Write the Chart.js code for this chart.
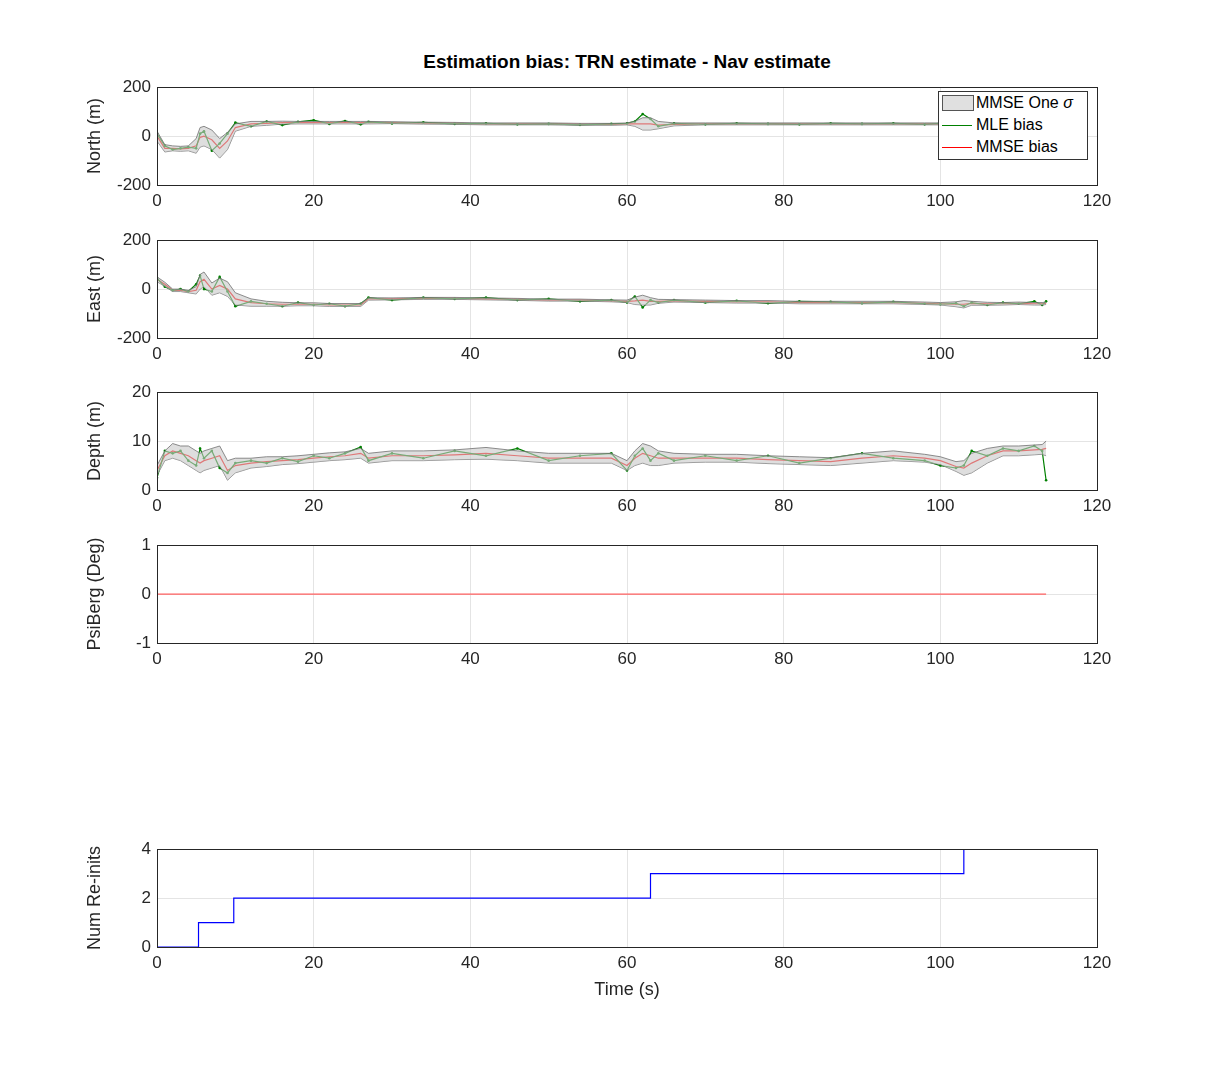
<!DOCTYPE html>
<html><head><meta charset="utf-8">
<script src="https://cdn.jsdelivr.net/npm/chart.js@4"></script>
<style>
body{margin:0;background:#fff;width:1213px;height:1070px;position:relative;font-family:"Liberation Sans",Arial,sans-serif}
canvas{position:absolute}
#title{position:absolute;left:157px;width:940px;top:51px;text-align:center;font-weight:bold;font-size:19px;color:#000}
#legend{position:absolute;left:938px;top:91px;width:148px;height:67px;border:1px solid #333;background:#fff;font-size:16px;color:#000}
#legend div{height:22px;line-height:22px;position:relative;padding-left:37px}
#legend span{position:absolute;left:3px;top:6px;width:30px;height:12px}
</style></head><body>
<div id="title">Estimation bias: TRN estimate - Nav estimate</div>
<canvas id="c1"></canvas><canvas id="c2"></canvas><canvas id="c3"></canvas><canvas id="c4"></canvas><canvas id="c5"></canvas>
<div id="legend">
<div><span style="background:#e0e0e0;border:1px solid #555;height:14px;top:3px"></span>MMSE One <i>σ</i></div>
<div><span style="background:#008000;height:1px;top:11px"></span>MLE bias</div>
<div><span style="background:#ff0000;height:1px;top:11px"></span>MMSE bias</div>
</div>
<script>
const time = [0,1,2,3,4,5,5.5,6,7,8,9,10,12,14,16,18,20,22,24,26,27,30,34,38,42,46,50,54,58,60,61,62,63,64,66,70,74,78,82,86,90,94,98,100,102,103,104,106,108,110,112,113,113.5];

const northMmse = [0,-50,-50,-52,-50,-40,-5,0,-15,-50, -20,35,50,52,55,55,55,55,55,55, 55,55,53,52,50,50,50,48,48,50, 50,50,50,45,48,50,50,50,50,50, 50,50,50,50,50,50,50,50,50,50, 50,50,50];
const northMle = [10,-40,-55,-50,-45,-50,10,20,-60,-30, 10,55,40,60,45,58,65,50,62,48, 58,52,56,50,52,48,50,46,50,52, 60,90,70,40,52,48,52,50,48,52, 50,52,48,52,50,50,50,48,52,50, 50,52,50];
const northSigma = [20,15,10,10,10,30,40,40,40,40, 35,15,10,8,6,5,5,5,5,5, 5,4,4,4,4,4,4,4,4,4, 10,25,25,15,6,4,4,4,4,4, 4,4,4,4,4,4,4,4,4,4, 4,4,4];

const eastMmse = [40,20,-5,-5,-10,-5,30,40,0,15, 0,-40,-55,-60,-62,-62,-62,-65,-65,-65, -40,-40,-38,-38,-40,-42,-45,-45,-48,-50, -48,-45,-50,-50,-48,-50,-52,-52,-55,-55, -55,-55,-58,-60,-62,-62,-58,-60,-60,-58, -60,-60,-58];
const eastMle = [45,10,-5,0,-10,20,55,0,-10,50, -10,-70,-50,-60,-70,-55,-65,-60,-70,-60, -35,-45,-35,-40,-35,-45,-40,-50,-45,-55, -30,-75,-45,-55,-45,-55,-48,-58,-50,-52, -58,-52,-60,-62,-58,-70,-55,-65,-55,-60, -50,-65,-50];
const eastSigma = [10,8,5,5,5,15,30,30,25,30, 30,25,15,10,8,6,6,6,6,6, 5,4,4,4,4,4,4,4,4,5, 15,20,15,8,5,5,5,5,5,5, 5,5,5,5,10,15,8,6,5,5, 5,5,5];

const depthMmse = [4,7,8,7.5,7,6,5.5,6,6.5,7, 4,5,5.5,5.8,6,6.2,6.5,6.8,7,7.5, 6.5,7,7,7.2,7.5,7,6.5,6.5,6.5,5, 6.5,7.5,7,6.5,6.5,6.5,6.5,6.2,6,5.8, 6.5,7,6.5,6,4.8,4.5,5.5,7,8,8, 8.2,8.3,8.5];
const depthMle = [2.5,8,7.5,8,6,5,8.5,6.5,8,4.5, 3.5,5.5,6,5.5,6.5,5.8,7,6.5,7.5,8.8, 6,7.5,6.5,8,7,8.5,6,7,7.5,4, 7,8.5,6,7.5,6,7,6,7,5.5,6.5, 7.5,6.5,6,5,4.5,5,8,7,8.5,8, 9,8,2];
const depthSigma = [1,1,1.5,1.5,2,2,2,2,2,2, 2,1.5,1,1,0.8,0.8,0.8,0.8,0.8,1, 1,1,1,1,1.2,1,1,1,1,1, 1.5,2,2,1.5,1,0.8,0.8,0.8,0.8,0.8, 1,1,0.8,0.8,1,1.5,2,1.5,1,1, 1,1,1.5];

const psiTime = [0,113.5];
const psiValues = [0,0];

const reinitTime = [0,5.3,5.3,9.8,9.8,63,63,103,103];
const reinitCount = [0,0,1,1,2,2,3,3,4];

const xTicks = [0,20,40,60,80,100,120];

const boxPlugin = {
  id:'box',
  afterDraw(chart){
    const {ctx, chartArea:a} = chart;
    ctx.save(); ctx.strokeStyle='#262626'; ctx.lineWidth=1;
    ctx.strokeRect(Math.round(a.left)+0.5, Math.round(a.top)+0.5, Math.round(a.width), Math.round(a.height));
    ctx.restore();
  }
};

function xy(xs, ys){ return xs.map((x,i)=>({x, y: ys[i]})); }

function makeChart(id, top, datasets, yMin, yMax, yStep, yTitle, xTitle){
  const c = document.getElementById(id);
  const h = 4 + 104 + 6 + (xTitle ? 58 : 32);
  c.style.left = '80px'; c.style.top = (top - 10) + 'px';
  c.width = 1040; c.height = h;
  c.style.width = '1040px'; c.style.height = h + 'px';
  new Chart(c, {
    type:'line',
    data:{datasets},
    options:{
      responsive:false, animation:false, devicePixelRatio:1,
      layout:{padding:{top:4,right:23,left:0,bottom:0}},
      plugins:{legend:{display:false}, tooltip:{enabled:false}},
      elements:{line:{tension:0}},
      scales:{
        x:{type:'linear', min:0, max:120,
           afterBuildTicks: s => { s.ticks = xTicks.map(v=>({value:v})); },
           afterFit: s => { s.height = xTitle ? 58 : 32; },
           grid:{color:'#e4e4e4', drawTicks:false},
           border:{display:false},
           ticks:{color:'#262626', font:{size:17, family:'Liberation Sans'}, padding:6, maxRotation:0},
           title:{display:!!xTitle, text:xTitle, color:'#262626', font:{size:18, family:'Liberation Sans'}, padding:{top:2}}},
        y:{min:yMin, max:yMax,
           ticks:{stepSize:yStep, color:'#262626', font:{size:17, family:'Liberation Sans'}, padding:6},
           afterFit: s => { s.width = 77; },
           grid:{color:'#e4e4e4', drawTicks:false},
           border:{display:false},
           title:{display:true, text:yTitle, color:'#262626', font:{size:18, family:'Liberation Sans'}, padding:{bottom:2}}}
      }
    },
    plugins:[boxPlugin]
  });
}

function biasSets(mmse, mle, sigma){
  return [
    {data: xy(time, mmse.map((v,i)=>v+sigma[i])), borderColor:'#707070', borderWidth:0.8, pointRadius:0, fill:'+1', backgroundColor:'rgba(200,200,200,0.6)'},
    {data: xy(time, mmse.map((v,i)=>v-sigma[i])), borderColor:'#707070', borderWidth:0.8, pointRadius:0, fill:false},
    {data: xy(time, mle), borderColor:'#008000', borderWidth:1.2, pointRadius:1.3, pointBackgroundColor:'#008000', pointBorderWidth:0, fill:false},
    {data: xy(time, mmse), borderColor:'#ff0000', borderWidth:1.2, pointRadius:0, fill:false}
  ];
}

makeChart('c1', 81, biasSets(northMmse, northMle, northSigma), -200, 200, 200, 'North (m)');
makeChart('c2', 234, biasSets(eastMmse, eastMle, eastSigma), -200, 200, 200, 'East (m)');
makeChart('c3', 386, biasSets(depthMmse, depthMle, depthSigma), 0, 20, 10, 'Depth (m)');
makeChart('c4', 539, [{data: xy(psiTime, psiValues), borderColor:'#ff6060', borderWidth:1.2, pointRadius:0}], -1, 1, 1, 'PsiBerg (Deg)');
makeChart('c5', 843, [{data: xy(reinitTime, reinitCount), borderColor:'#0000ff', borderWidth:1.2, pointRadius:0}], 0, 4, 2, 'Num Re-inits', 'Time (s)');
</script>
</body></html>
